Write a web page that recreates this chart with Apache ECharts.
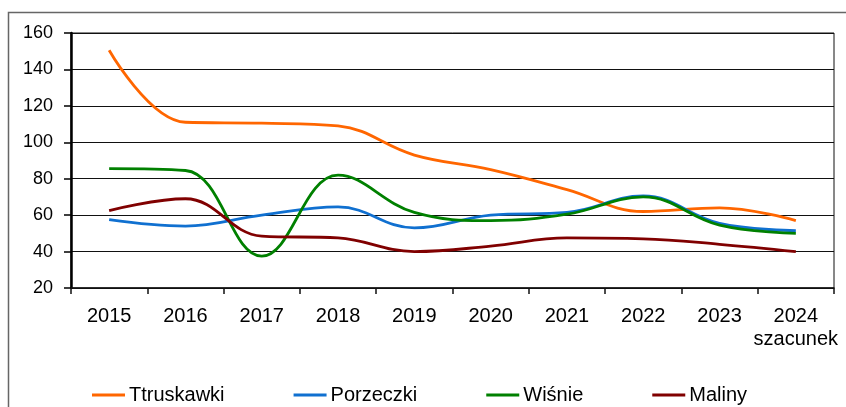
<!DOCTYPE html>
<html>
<head>
<meta charset="utf-8">
<script src="https://cdn.jsdelivr.net/npm/echarts@6/dist/echarts.min.js"></script>
<style>
html,body{margin:0;padding:0;background:#fff;}
#chart{width:846px;height:407px;}
</style>
</head>
<body>
<div id="chart"></div>
<script>
const categories = ['2015','2016','2017','2018','2019','2020','2021','2022','2023','2024\nszacunek'];
const seriesNames = ['Ttruskawki','Porzeczki','Wiśnie','Maliny'];
const truskawki = [150.5, 111, 110.5, 109, 93, 85, 74, 62, 64, 57];
const porzeczki = [57.5, 54, 60, 64.5, 53, 60, 61.5, 70.5, 55.5, 51.5];
const wisnie = [85.5, 84.5, 37.5, 82, 61.5, 57, 60.5, 70, 54.5, 50];
const maliny = [62.5, 69, 48.5, 47.5, 40, 43, 47.5, 47, 44, 40];
const yTicks = {min: 20, max: 160, interval: 20};
const colors = ['#FF6600', '#1070D0', '#008000', '#800000'];

const chart = echarts.init(document.getElementById('chart'), null, {renderer: 'canvas'});
const dataList = [truskawki, porzeczki, wisnie, maliny];
const FONT = '"Liberation Sans", Arial, sans-serif';

chart.setOption({
  animation: false,
  backgroundColor: '#fff',
  color: colors,
  graphic: [{
    type: 'rect',
    shape: {x: 8.5, y: 12.5, width: 900, height: 500},
    style: {fill: 'none', stroke: '#666', lineWidth: 1.5},
    silent: true,
    z: -1
  }],
  grid: {
    left: 71, right: 12, top: 33, bottom: 119,
    show: true, borderColor: '#111', borderWidth: 1, backgroundColor: 'transparent'
  },
  legend: {
    top: 385,
    left: 92,
    padding: 0,
    itemWidth: 33,
    itemHeight: 3,
    itemGap: 69,
    icon: 'rect',
    data: seriesNames,
    textStyle: {fontFamily: FONT, fontSize: 20, color: '#000', padding: [0,0,0,-1]}
  },
  xAxis: {
    type: 'category',
    data: categories,
    boundaryGap: true,
    axisLine: {show: true, lineStyle: {color: '#111', width: 1.5}},
    axisTick: {show: true, length: 6, lineStyle: {color: '#111', width: 1.5}},
    axisLabel: {fontFamily: FONT, fontSize: 20, color: '#000', margin: 17, lineHeight: 23, interval: 0},
    splitLine: {show: false}
  },
  yAxis: {
    type: 'value',
    min: yTicks.min, max: yTicks.max, interval: yTicks.interval,
    axisLine: {show: true, lineStyle: {color: '#000', width: 2.5}},
    axisTick: {show: true, length: 7, lineStyle: {color: '#000', width: 1.5}},
    axisLabel: {fontFamily: FONT, fontSize: 18, color: '#000', margin: 18},
    splitLine: {show: true, lineStyle: {color: '#111', width: 1.2}}
  },
  series: seriesNames.map((n, i) => ({
    name: n,
    type: 'line',
    data: dataList[i],
    smooth: 0.4,
    showSymbol: false,
    symbol: 'none',
    lineStyle: {width: 2.8, color: colors[i]},
    z: 3 + (i === 1 ? 0 : i)
  }))
});
</script>
</body>
</html>
